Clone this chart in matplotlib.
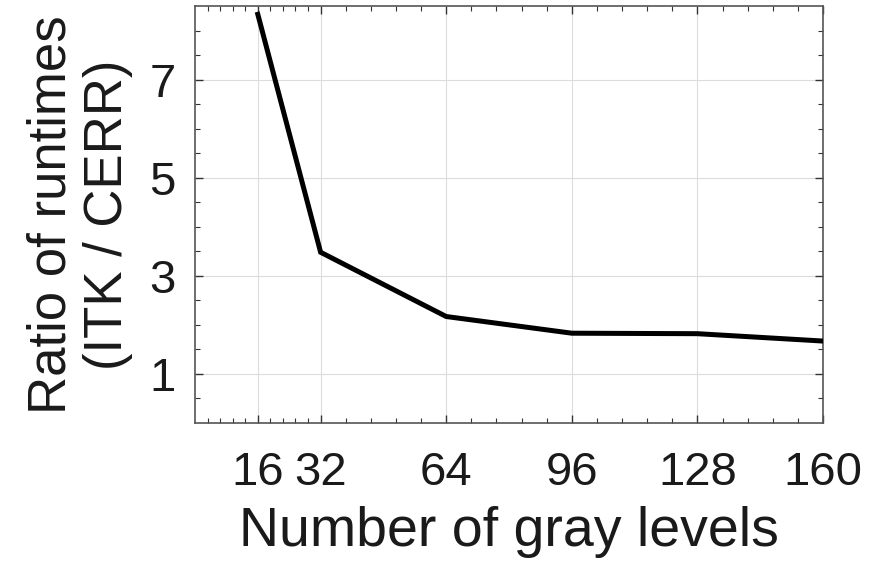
import matplotlib
matplotlib.use("Agg")
import matplotlib.pyplot as plt
import numpy as np

# gray levels vs runtime ratio
gray_levels = [16, 32, 64, 96, 128, 160]
ratio = [8.33, 3.48, 2.17, 1.83, 1.82, 1.67]
xticks = [16, 32, 64, 96, 128, 160]
yticks = [1, 3, 5, 7]

plt.rcParams['font.family'] = ['Liberation Sans', 'DejaVu Sans']

fig = plt.figure(figsize=(8.71, 5.66), dpi=100)
ax = fig.add_axes([0.2239, 0.2527, 0.9449 - 0.2239, 0.9894 - 0.2527])

ax.plot(gray_levels, ratio, color='black', linewidth=3.6, solid_joinstyle='miter', zorder=3)

ax.set_xlim(0, 160)
ax.set_ylim(0, 8.5)
ax.set_xticks(xticks)
ax.set_yticks(yticks)

# minor ticks: 5 per major interval on x, every 0.5 on y
edges = [0] + xticks
xminor = []
for a, b in zip(edges[:-1], edges[1:]):
    xminor += list(np.linspace(a, b, 6)[1:-1])
ax.set_xticks(xminor, minor=True)
ax.set_yticks(np.arange(0.5, 8.5, 0.5), minor=True)

ax.grid(True, which='major', color='#dcdcdc', linewidth=0.8)
ax.tick_params(which='both', direction='in', top=True, right=True,
               color='#333333', labelsize=34, labelcolor='#1a1a1a')
ax.tick_params(which='major', length=6, width=1)
ax.tick_params(which='minor', length=3.5, width=0.8)
ax.tick_params(axis='y', pad=14)
ax.tick_params(axis='x', pad=20)
for s in ax.spines.values():
    s.set_color('#555555')
    s.set_linewidth(1.2)

ax.set_xlabel('Number of gray levels', fontsize=40, color='#1a1a1a', labelpad=8)
ax.set_ylabel('Ratio of runtimes\n(ITK / CERR)', fontsize=38, color='#1a1a1a',
              labelpad=12, linespacing=1.15)

fig.savefig('out.png', dpi=100)
